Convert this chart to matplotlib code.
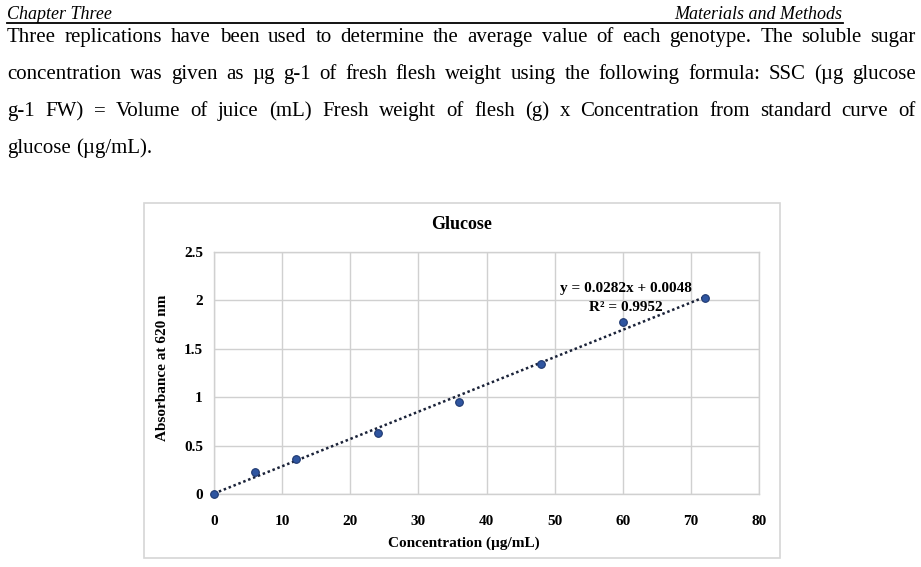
import matplotlib
matplotlib.use("Agg")
import matplotlib.pyplot as plt
from matplotlib.lines import Line2D
from matplotlib.patches import Rectangle
import numpy as np

# ----------------------------------------------------------
# Data
# ----------------------------------------------------------
concentration = [0, 6, 12, 24, 36, 48, 60, 72]
absorbance = [0.0, 0.23, 0.36, 0.63, 0.95, 1.34, 1.78, 2.02]

x_ticks = [0, 10, 20, 30, 40, 50, 60, 70, 80]
y_ticks = [0, 0.5, 1, 1.5, 2, 2.5]
y_tick_labels = ["0", "0.5", "1", "1.5", "2", "2.5"]

equation_label = "y = 0.0282x + 0.0048"
r2_label = "R² = 0.9952"

header_left = "Chapter Three"
header_right = "Materials and Methods"
body_lines = [
    "Three replications have been used to determine the average value of each genotype. The soluble sugar",
    "concentration was given as µg g-1 of fresh flesh weight using the following formula: SSC (µg glucose",
    "g-1 FW) = Volume of juice (mL) Fresh weight of flesh (g) x Concentration from standard curve of",
    "glucose (µg/mL).",
]

W, H = 921, 567
SERIF = "Liberation Serif"
GRID = "#D0D0D0"

fig = plt.figure(figsize=(W / 100, H / 100), dpi=100)
fig.patch.set_facecolor("white")


def fx(px):
    return px / W


def fy(py):
    return 1 - py / H


# ----------------------------------------------------------
# Page header
# ----------------------------------------------------------
fig.text(fx(7), fy(19), header_left, fontsize=13, family=SERIF,
         style="italic", va="baseline", ha="left")
fig.text(fx(842), fy(19), header_right, fontsize=13, family=SERIF,
         style="italic", va="baseline", ha="right")
fig.add_artist(Line2D([fx(7), fx(843)], [fy(23), fy(23)], color="black", lw=1.3))

# ----------------------------------------------------------
# Body text (justified lines)
# ----------------------------------------------------------
fig.canvas.draw()
renderer = fig.canvas.get_renderer()

body_size = 15
x0, x1 = 7, 916
baselines = [42, 79, 116, 153]
for i, (line, base) in enumerate(zip(body_lines, baselines)):
    words = line.split(" ")
    texts = [fig.text(0, fy(base), w, fontsize=body_size, family=SERIF,
                      va="baseline", ha="left") for w in words]
    widths = [t.get_window_extent(renderer).width for t in texts]
    space = body_size * 100 / 72 * 0.25
    if i < len(body_lines) - 1:
        gap = max((x1 - x0 - sum(widths)) / (len(words) - 1), 2)
    else:
        gap = space
    x = x0
    for t, w in zip(texts, widths):
        t.set_x(fx(x))
        x += w + gap

# ----------------------------------------------------------
# Chart frame
# ----------------------------------------------------------
fig.add_artist(Rectangle((fx(144), fy(558)), fx(780) - fx(144), fy(203) - fy(558),
                         transform=fig.transFigure, fill=False,
                         edgecolor="#D6D6D6", lw=1.2))

ax = fig.add_axes([fx(214), fy(494), fx(759) - fx(214), fy(252) - fy(494)])

# Trendline from a linear fit of the points
slope, intercept = np.polyfit(concentration, absorbance, 1)
xs = np.array([concentration[0], concentration[-1]])
ax.plot(xs, slope * xs + intercept, linestyle=(0, (1, 1.1)), color="#1A2238",
        lw=1.8, zorder=3)

ax.plot(concentration, absorbance, linestyle="none", marker="o", markersize=5.5,
        markerfacecolor="#2F55A0", markeredgecolor="#1F3870", markeredgewidth=0.8,
        zorder=4, clip_on=False)

ax.set_xlim(0, 80)
ax.set_ylim(0, 2.5)
ax.set_xticks(x_ticks)
ax.set_yticks(y_ticks)
ax.set_yticklabels(y_tick_labels)
ax.grid(True, color=GRID, lw=1.0)
ax.set_axisbelow(True)
for s in ax.spines.values():
    s.set_color(GRID)
    s.set_linewidth(1.0)
ax.tick_params(length=0)
ax.tick_params(axis="x", pad=15)
ax.tick_params(axis="y", pad=8)
for lbl in ax.get_xticklabels() + ax.get_yticklabels():
    lbl.set_fontfamily(SERIF)
    lbl.set_fontweight("bold")
    lbl.set_fontsize(11)

ax.text(60.5, 2.12, equation_label, ha="center", va="center", fontsize=11,
        family=SERIF, fontweight="bold")
ax.text(60.5, 1.93, r2_label, ha="center", va="center", fontsize=11,
        family=SERIF, fontweight="bold")

fig.text(fx(462), fy(225), "Glucose", ha="center", va="center", fontsize=13,
         family=SERIF, fontweight="bold")
fig.text(fx(464), fy(543), "Concentration (µg/mL)", ha="center", va="center",
         fontsize=11, family=SERIF, fontweight="bold")
fig.text(fx(162), fy(368), "Absorbance at 620 nm", ha="center", va="center",
         rotation=90, fontsize=11, family=SERIF, fontweight="bold")

fig.savefig("out.png", dpi=100)
